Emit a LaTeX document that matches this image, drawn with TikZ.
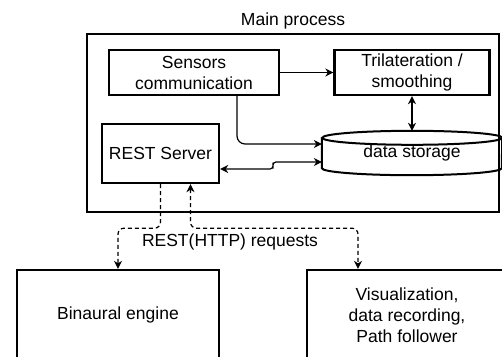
\documentclass[tikz,border=0pt]{standalone}
\usepackage{fontspec}
\setmainfont{Liberation Sans}
\usetikzlibrary{arrows.meta}
\tikzset{
  block/.style={draw, line width=2.4pt, align=center},
  conn/.style={line width=1.2pt, >={Stealth[length=8pt,width=8pt]}, ->},
  request/.style={conn, dash pattern=on 4pt off 3pt, rounded corners=6pt},
}

\begin{document}
\begin{tikzpicture}[x=1pt, y=-1pt, every node/.style={font=\fontsize{17.5}{21}\selectfont}]
	\clip (0,0) rectangle (502,356);
	\node (title) at (293,21) {Main process};
	\node (main) [block, minimum width=412pt, minimum height=178pt] at (293,123) {};
	\node (sensors) [block, minimum width=170pt, minimum height=45pt] at (194,72.5) {Sensors\\communication};
	\node (trilat) [block, minimum width=155pt, minimum height=45pt] at (412,72.5) {Trilateration /\\smoothing};
	\node (rest) [block, minimum width=117pt, minimum height=59pt] at (160.5,153.5) {REST Server};
	\node (storage) [minimum width=180pt, minimum height=44pt, inner sep=0pt] at (412,153) {data storage};
	\node (binaural) [block, minimum width=202pt, minimum height=90pt] at (118,315) {Binaural engine};
	\node (vis) [block, minimum width=200pt, minimum height=90pt] at (407,315) {Visualization,\\data recording,\\Path follower};
	\node (requests) at (230,242) {REST(HTTP) requests};

  % cylinder
  \draw[line width=2pt] ([yshift=-7pt]storage.north west) -- ([yshift=7pt]storage.south west)
    arc[start angle=180, end angle=360, x radius=90pt, y radius=7pt]
    -- ([yshift=-7pt]storage.north east)
    arc[start angle=0, end angle=360, x radius=90pt, y radius=7pt];

  \path (sensors) edge[conn] (trilat);
  \draw[conn, <->] (trilat.south) -- (storage.north);
  \draw[conn, rounded corners=8pt] ([xshift=43pt]sensors.south) |- ([yshift=9pt]storage.west);
  \draw[conn, <->, rounded corners=3pt] ([yshift=-15.5pt]rest.east) -| (273,165.5) |- ([yshift=-9pt]storage.west);

  \draw[request] (rest.south) -- ++(0,44) -| (binaural.north);
  \draw[request, <->] ([xshift=30pt]rest.south) -- ++(0,44) -| ([xshift=-49pt]vis.north);

\end{tikzpicture}
\end{document}
